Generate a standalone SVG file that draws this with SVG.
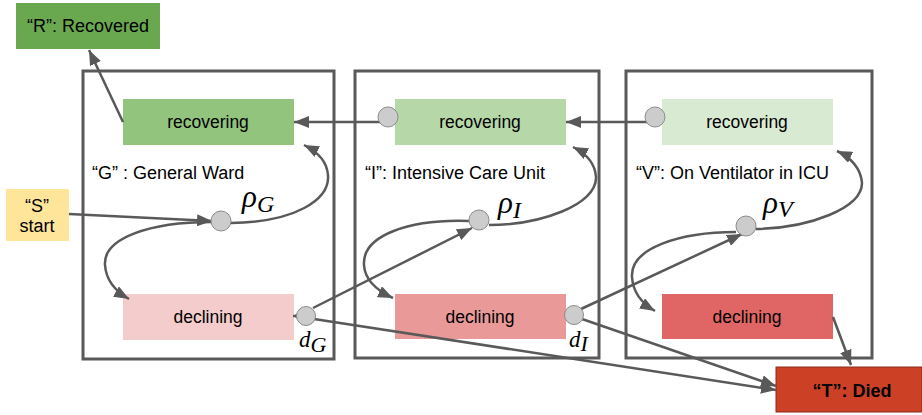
<svg xmlns="http://www.w3.org/2000/svg" width="922" height="415" viewBox="0 0 922 415">
<style>
.frame{fill:none;stroke:#595959;stroke-width:3}
.t{font-family:"Liberation Sans",Arial,sans-serif;font-size:18px;fill:#000}
.b{font-size:17.5px}
.c{text-anchor:middle}
.conn{fill:none;stroke:#595959;stroke-width:2.5}
.dot{fill:#cccccc;stroke:#8c8c8c;stroke-width:1}
.m{font-family:"Liberation Serif","Times New Roman",serif;font-style:italic;fill:#000}
</style>
<defs>
<marker id="ah" markerUnits="userSpaceOnUse" markerWidth="16" markerHeight="12" refX="15" refY="6" orient="auto">
<path d="M0,0 L15,6 L0,12 z" fill="#595959"/>
</marker>
<marker id="ahs" markerUnits="userSpaceOnUse" markerWidth="8" markerHeight="8" refX="6" refY="3.5" orient="auto">
<path d="M0,0 L6,3.5 L0,7 z" fill="#595959"/>
</marker>
</defs>
<rect width="922" height="415" fill="#fff"/>
<g id="frame-G"><rect class="frame" x="83" y="71" width="251" height="288"/><text class="t" x="92" y="179">“G” : General Ward</text></g>
<g id="frame-I"><rect class="frame" x="355" y="71" width="244" height="287"/><text class="t" x="365" y="179">“I”: Intensive Care Unit</text></g>
<g id="frame-V"><rect class="frame" x="626" y="71" width="246" height="287"/><text class="t" x="636" y="179">“V”: On Ventilator in ICU</text></g>
<g id="R"><rect x="16" y="3" width="144" height="46" fill="#6aa84f"/><text class="t c" x="88" y="32">“R”: Recovered</text></g>
<g id="S"><rect x="6" y="189" width="63" height="52" fill="#ffe599"/><text class="t c" x="37" y="212">“S”</text><text class="t c" x="37" y="232">start</text></g>
<g id="G-recovering"><rect x="123" y="99" width="171" height="46" fill="#93c47d"/><text class="t b c" x="208" y="128">recovering</text></g>
<g id="G-declining"><rect x="123" y="294" width="171" height="46" fill="#f4cccc"/><text class="t b c" x="208" y="323">declining</text></g>
<g id="I-recovering"><rect x="395" y="99" width="171" height="46" fill="#b6d7a8"/><text class="t b c" x="480" y="128">recovering</text></g>
<g id="I-declining"><rect x="395" y="294" width="171" height="45" fill="#ea9999"/><text class="t b c" x="480" y="323">declining</text></g>
<g id="V-recovering"><rect x="662" y="99" width="171" height="46" fill="#d9ead3"/><text class="t b c" x="747" y="128">recovering</text></g>
<g id="V-declining"><rect x="662" y="294" width="171" height="45" fill="#e06666"/><text class="t b c" x="747" y="323">declining</text></g>
<g id="T"><rect x="776" y="367" width="146" height="45" fill="#cc4125" stroke="#8c2a18" stroke-width="1"/><text class="t c" x="852" y="397" font-weight="bold">“T”: Died</text></g>
<g id="connectors">
<path class="conn" marker-end="url(#ah)" d="M123,122 L89,50"/>
<path class="conn" marker-end="url(#ah)" d="M380,122 L294,122"/>
<path class="conn" marker-end="url(#ah)" d="M647,122 L566,122"/>
<path class="conn" marker-end="url(#ah)" d="M69,214 L212,221"/>
<path class="conn" marker-end="url(#ah)" d="M231,223 C295,222 330,200 328,175 C327,162 318,152 304,145"/>
<path class="conn" marker-end="url(#ah)" d="M212,222 C150,222 103,238 105,265 C106,280 115,291 129,299"/>
<path class="conn" marker-end="url(#ah)" d="M489,225 C540,225 597,205 596,177 C595,162 585,153 573,147"/>
<path class="conn" marker-end="url(#ah)" d="M469,221 C410,219 362,235 364,265 C365,282 380,292 393,298"/>
<path class="conn" marker-end="url(#ah)" d="M756,229 C810,228 862,208 862,183 C861,168 850,157 837,151"/>
<path class="conn" marker-end="url(#ah)" d="M736,232 C680,232 630,248 632,277 C633,294 643,304 655,311"/>
<path class="conn" marker-end="url(#ah)" d="M313,308 L472,228"/>
<path class="conn" marker-end="url(#ah)" d="M314,319 L776,390"/>
<path class="conn" marker-end="url(#ah)" d="M581,309 L742,234"/>
<path class="conn" marker-end="url(#ah)" d="M582,319 L776,386"/>
<path class="conn" marker-end="url(#ah)" d="M833,317 L851,365"/>
<path class="conn" marker-end="url(#ahs)" d="M300,316 L293,316"/>
</g>
<g id="dots">
<circle class="dot" cx="388" cy="117" r="10"/>
<circle class="dot" cx="655" cy="117" r="10"/>
<circle class="dot" cx="221" cy="221" r="10"/>
<circle class="dot" cx="479" cy="220" r="10"/>
<circle class="dot" cx="746" cy="226" r="10"/>
<circle class="dot" cx="306" cy="316" r="9.5"/>
<circle class="dot" cx="574" cy="315" r="9.5"/>
</g>
<g id="labels">
<text class="m" x="242" y="207" font-size="31">ρ<tspan font-size="24" dy="5">G</tspan></text>
<text class="m" x="498" y="213" font-size="31">ρ<tspan font-size="24" dy="5">I</tspan></text>
<text class="m" x="763" y="213" font-size="31">ρ<tspan font-size="24" dy="4">V</tspan></text>
<text class="m" x="299" y="347" font-size="23">d<tspan font-size="22" dy="5">G</tspan></text>
<text class="m" x="569" y="347" font-size="23">d<tspan font-size="22" dy="4">I</tspan></text>
</g>
</svg>
